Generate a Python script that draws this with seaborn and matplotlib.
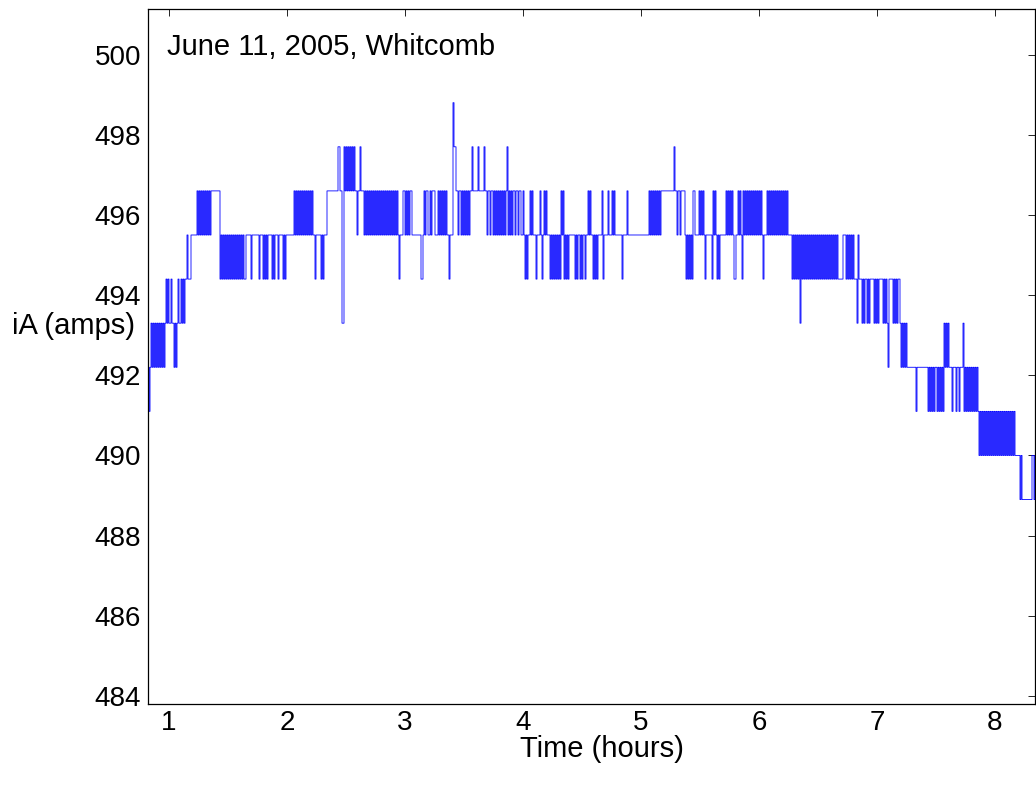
import numpy as np
import pandas as pd
import matplotlib
matplotlib.use("Agg")
import matplotlib.pyplot as plt
import seaborn as sns

# Quantised current levels of the meter (amps); the codes below index into this list
LEVELS = [488.9, 490.0, 491.1, 492.2, 493.3, 494.4, 495.5, 496.6, 497.7, 498.8]

# Recording window (hours)
T_START = 0.822
T_END = 8.339

# Sampled level codes, in time order (spaces only group the readings)
CODE_CHUNKS = [
    "323 43434343434343 454544544343454454545 56555 666666 767676767676767 77777777",
    "5656565656565656565656565",
    "5 66666 5 6666666 5 666 5 6 5 6 5 6666 5 6 5 666 5 6666 5 6 5 6",
    "6666666 76767676767676767676 6 5 66666 5 6 5 666 77777777777 88 77 44",
    "87878787878 776778 777 6767676767676767676767676767676767 65666",
    "7767676776 66666666 556 767766 76777666 7676767",
    "676 6566 69887 7677676767676 77877777877777877",
    "6776776 76767676767 67 8 676767 7677677 6 67656566767666566676567",
    "6766656565656565 76756565 666666 5656656566566 7676656565 6666 75 6666 7 666 7676 666666 5 6666 7 66666666666666666",
    "6666 7676767676767 777777777777 8 77 6 77 6 7777 65656565 77",
    "6666 7676765 666666 576765656 66666 76767676 5566 7676576",
    "76767676767676767 65666 767676767676767676767 6666",
    "56565656 4 6565656565656565656565656565656565656 55555 66",
    "656565656 555 4 6 555 4545 5 4545 555 45454 5555 45454 3 5555 45454 55",
    "4343434 333333333 2 33333333333 23232323",
    "32323232 434343 3323332332333 4 23232323232323",
    "2121212121212121212121212121212121212 11111 01 0000000000 11 01",
]

codes = "".join(CODE_CHUNKS).replace(" ", "")
current = [LEVELS[int(c)] for c in codes]
hours = np.linspace(T_START, T_END, len(current))
df = pd.DataFrame({"hours": hours, "iA": current})

sns.set_style("white")
plt.rcParams["font.family"] = ["Liberation Sans", "DejaVu Sans"]

TICK_FS = 20
LABEL_FS = 21

fig = plt.figure(figsize=(10.36, 7.85), dpi=100)
ax = fig.add_axes([148 / 1036, 81 / 785, (1035 - 148) / 1036, (704 - 8.5) / 785])

sns.lineplot(data=df, x="hours", y="iA", estimator=None, ax=ax,
             color="#0000ff", linewidth=0.6, drawstyle="steps-post")

ax.set_xlim(T_START, T_END)
ax.set_ylim(483.8, 501.15)
ax.set_xticks(range(1, 9))
ax.set_yticks(range(484, 501, 2))
ax.tick_params(direction="in", top=True, right=True, length=5, width=0.6,
               labelsize=TICK_FS, pad=5, colors="black")
ax.tick_params(axis="x", pad=4)
for side in ax.spines.values():
    side.set_visible(True)
    side.set_color("black")
    side.set_linewidth(0.9)

ax.set_xlabel("")
ax.set_ylabel("")
fig.text(602 / 1036, 1 - 757 / 785, "Time (hours)", ha="center", va="baseline",
         fontsize=LABEL_FS, color="black")
fig.text(73 / 1036, 1 - 326 / 785, "iA (amps)", ha="center", va="center",
         fontsize=LABEL_FS, color="black")
ax.text(0.985, 500.2, "June 11, 2005, Whitcomb", ha="left", va="center",
        fontsize=LABEL_FS, color="black")

fig.savefig("out.png", dpi=100)
